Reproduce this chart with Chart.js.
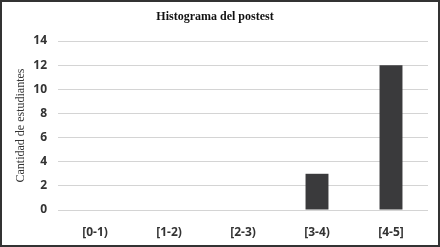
<!DOCTYPE html>
<html>
<head>
<meta charset="utf-8">
<script src="https://cdn.jsdelivr.net/npm/chart.js@4"></script>
<style>
  html, body { margin: 0; padding: 0; background: #fff; }
  #frame { width: 440px; height: 247px; box-sizing: border-box; border: 2px solid #333; background: #fff; }
  #frame canvas { display: block; }
</style>
</head>
<body>
<div id="frame"><canvas id="histChart" width="436" height="243"></canvas></div>
<script>
// Histogram data
const categories = ["[0-1)", "[1-2)", "[2-3)", "[3-4)", "[4-5]"];
const counts = [0, 0, 0, 3, 12];
const yTicks = [0, 2, 4, 6, 8, 10, 12, 14];

const ctx = document.getElementById("histChart");
new Chart(ctx, {
  type: "bar",
  data: {
    labels: categories,
    datasets: [{
      label: "Cantidad de estudiantes",
      data: counts,
      backgroundColor: "#3a3a3c",
      categoryPercentage: 1,
      barPercentage: 0.31
    }]
  },
  options: {
    responsive: false,
    animation: false,
    layout: { padding: { left: 0, right: 10, top: 0, bottom: 0 } },
    plugins: {
      legend: { display: false },
      tooltip: { enabled: false },
      title: {
        display: true,
        text: "Histograma del postest",
        color: "#111",
        font: { family: "'Liberation Serif', 'DejaVu Serif', serif", size: 12, weight: "bold" },
        padding: { top: 8, bottom: 16.6 }
      }
    },
    scales: {
      x: {
        grid: { display: false },
        border: { display: false },
        ticks: {
          color: "#333",
          padding: 7,
          font: { family: "'Open Sans', sans-serif", size: 12, weight: "bold" }
        },
        afterFit: s => { s.height = 35; }
      },
      y: {
        min: 0,
        max: 14,
        afterBuildTicks: s => { s.ticks = yTicks.map(v => ({ value: v })); },
        grid: { color: "#d4d4d4", lineWidth: 1, drawTicks: false },
        border: { display: false },
        ticks: {
          color: "#333",
          padding: 11,
          font: { family: "'Open Sans', sans-serif", size: 12, weight: "bold" }
        },
        title: {
          display: true,
          text: "Cantidad de estudiantes",
          color: "#333",
          font: { family: "'Liberation Serif', 'DejaVu Serif', serif", size: 12 },
          padding: { top: 12, bottom: 0 }
        },
        afterFit: s => { s.width = 56; }
      }
    }
  }
});
</script>
</body>
</html>
